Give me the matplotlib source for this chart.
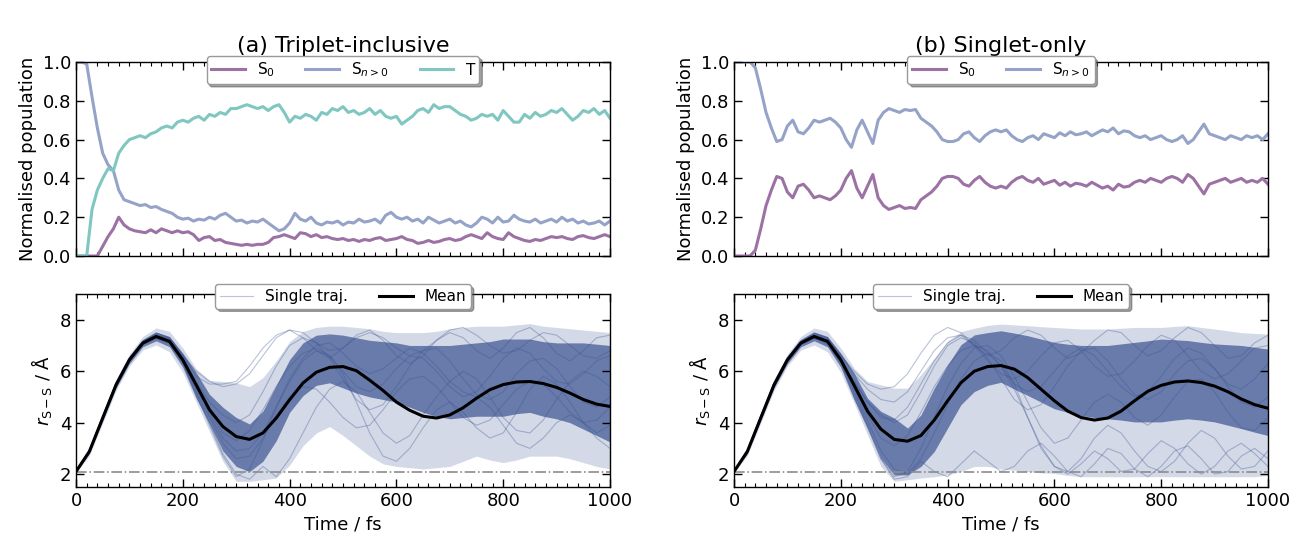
import numpy as np
import matplotlib.pyplot as plt
from matplotlib.ticker import MultipleLocator

# ---------------- data ----------------
t_pop = np.arange(0, 1001, 10)

# (a) triplet-inclusive populations
a_s0 = [0, 0, 0, 0, 0, 0.05, 0.10, 0.14, 0.20, 0.16, 0.14, 0.13, 0.125, 0.12, 0.135, 0.12, 0.14, 0.13, 0.12, 0.13,
        0.12, 0.125, 0.11, 0.08, 0.095, 0.10, 0.08, 0.085, 0.07, 0.065, 0.06, 0.055, 0.06, 0.055, 0.06, 0.06, 0.07, 0.095, 0.10, 0.11,
        0.10, 0.09, 0.12, 0.115, 0.10, 0.11, 0.095, 0.10, 0.09, 0.085, 0.09, 0.08, 0.085, 0.075, 0.085, 0.08, 0.09, 0.095, 0.08, 0.085,
        0.09, 0.10, 0.085, 0.08, 0.065, 0.07, 0.08, 0.07, 0.075, 0.085, 0.09, 0.08, 0.085, 0.10, 0.11, 0.10, 0.09, 0.12, 0.10, 0.09,
        0.085, 0.12, 0.10, 0.09, 0.08, 0.075, 0.085, 0.08, 0.09, 0.10, 0.095, 0.10, 0.09, 0.085, 0.10, 0.105, 0.095, 0.09, 0.10, 0.11,
        0.10]
a_sn = [1.0, 1.0, 0.99, 0.82, 0.66, 0.53, 0.47, 0.44, 0.34, 0.29, 0.28, 0.27, 0.26, 0.265, 0.25, 0.255, 0.24, 0.23, 0.22, 0.20,
        0.19, 0.195, 0.18, 0.19, 0.185, 0.20, 0.19, 0.21, 0.22, 0.20, 0.18, 0.185, 0.17, 0.18, 0.175, 0.19, 0.17, 0.15, 0.13, 0.14,
        0.17, 0.22, 0.19, 0.18, 0.20, 0.17, 0.16, 0.175, 0.17, 0.18, 0.16, 0.175, 0.17, 0.19, 0.175, 0.18, 0.19, 0.17, 0.21, 0.225,
        0.20, 0.19, 0.20, 0.18, 0.19, 0.17, 0.20, 0.185, 0.17, 0.18, 0.19, 0.17, 0.18, 0.16, 0.15, 0.17, 0.20, 0.19, 0.17, 0.20,
        0.175, 0.18, 0.21, 0.19, 0.18, 0.175, 0.19, 0.17, 0.18, 0.19, 0.175, 0.20, 0.18, 0.19, 0.17, 0.18, 0.165, 0.17, 0.18, 0.16,
        0.18]
a_t = [0, 0, 0, 0.24, 0.34, 0.40, 0.45, 0.44, 0.53, 0.57, 0.60, 0.61, 0.62, 0.61, 0.63, 0.64, 0.66, 0.67, 0.66, 0.69,
       0.70, 0.69, 0.71, 0.72, 0.70, 0.73, 0.72, 0.74, 0.73, 0.76, 0.76, 0.77, 0.78, 0.77, 0.76, 0.77, 0.75, 0.77, 0.78, 0.74,
       0.69, 0.72, 0.71, 0.73, 0.72, 0.70, 0.74, 0.73, 0.76, 0.75, 0.77, 0.74, 0.75, 0.73, 0.74, 0.76, 0.73, 0.75, 0.72, 0.71,
       0.72, 0.68, 0.70, 0.72, 0.75, 0.76, 0.74, 0.78, 0.76, 0.77, 0.77, 0.75, 0.73, 0.72, 0.70, 0.71, 0.73, 0.72, 0.73, 0.70,
       0.75, 0.72, 0.69, 0.69, 0.73, 0.71, 0.74, 0.72, 0.73, 0.75, 0.74, 0.76, 0.73, 0.70, 0.72, 0.75, 0.74, 0.76, 0.73, 0.75,
       0.71]

# (b) singlet-only populations
b_sn = [1.0, 1.0, 1.0, 1.0, 0.97, 0.86, 0.74, 0.66, 0.59, 0.60, 0.67, 0.70, 0.64, 0.63, 0.66, 0.70, 0.69, 0.70, 0.71, 0.69,
        0.66, 0.60, 0.56, 0.65, 0.70, 0.64, 0.58, 0.70, 0.74, 0.76, 0.75, 0.74, 0.755, 0.75, 0.755, 0.71, 0.69, 0.67, 0.64, 0.60,
        0.59, 0.59, 0.60, 0.63, 0.64, 0.61, 0.59, 0.62, 0.64, 0.65, 0.64, 0.65, 0.62, 0.60, 0.59, 0.61, 0.62, 0.60, 0.63, 0.62,
        0.61, 0.635, 0.62, 0.64, 0.625, 0.63, 0.64, 0.62, 0.635, 0.65, 0.64, 0.66, 0.63, 0.645, 0.64, 0.62, 0.61, 0.62, 0.60, 0.61,
        0.62, 0.60, 0.59, 0.60, 0.62, 0.58, 0.60, 0.64, 0.68, 0.63, 0.62, 0.61, 0.60, 0.62, 0.61, 0.60, 0.62, 0.61, 0.62, 0.60,
        0.63]
b_s0 = [0, 0, 0, 0, 0.03, 0.14, 0.26, 0.34, 0.41, 0.40, 0.33, 0.30, 0.36, 0.37, 0.34, 0.30, 0.31, 0.30, 0.29, 0.31,
        0.34, 0.40, 0.44, 0.35, 0.30, 0.36, 0.42, 0.30, 0.26, 0.24, 0.25, 0.26, 0.245, 0.25, 0.245, 0.29, 0.31, 0.33, 0.36, 0.40,
        0.41, 0.41, 0.40, 0.37, 0.36, 0.39, 0.41, 0.38, 0.36, 0.35, 0.36, 0.35, 0.38, 0.40, 0.41, 0.39, 0.38, 0.40, 0.37, 0.38,
        0.39, 0.365, 0.38, 0.36, 0.375, 0.37, 0.36, 0.38, 0.365, 0.35, 0.36, 0.34, 0.37, 0.355, 0.36, 0.38, 0.39, 0.38, 0.40, 0.39,
        0.38, 0.40, 0.41, 0.40, 0.38, 0.42, 0.40, 0.36, 0.32, 0.37, 0.38, 0.39, 0.40, 0.38, 0.39, 0.40, 0.38, 0.39, 0.38, 0.40,
        0.37]

# S-S distance, sampled every 25 fs
t_r = np.arange(0, 1001, 25)
a_mean = [2.10, 2.88, 4.18, 5.47, 6.44, 7.09, 7.35, 7.16, 6.44, 5.47, 4.50, 3.85, 3.46, 3.35, 3.60, 4.18, 4.89, 5.54, 5.96, 6.15,
          6.18, 6.02, 5.65, 5.25, 4.80, 4.48, 4.25, 4.18, 4.30, 4.58, 4.95, 5.28, 5.48, 5.58, 5.60, 5.52, 5.37, 5.15, 4.90, 4.72,
          4.63]
b_mean = [2.10, 2.88, 4.18, 5.47, 6.44, 7.09, 7.35, 7.16, 6.44, 5.45, 4.45, 3.75, 3.35, 3.28, 3.50, 4.10, 4.85, 5.55, 6.00, 6.18,
          6.22, 6.08, 5.75, 5.30, 4.85, 4.45, 4.20, 4.10, 4.18, 4.45, 4.85, 5.22, 5.45, 5.58, 5.62, 5.56, 5.42, 5.20, 4.92, 4.70,
          4.56]

# spread of the trajectory bundle (outer envelope and dense core)
a_hi_outer = [2.15, 3.02, 4.38, 5.68, 6.66, 7.35, 7.68, 7.55, 6.90, 6.10, 5.65, 5.60, 5.55, 5.40, 5.75, 6.40, 7.15, 7.55, 7.70, 7.75,
              7.75, 7.70, 7.65, 7.55, 7.50, 7.50, 7.50, 7.55, 7.65, 7.70, 7.75, 7.75, 7.75, 7.80, 7.85, 7.75, 7.70, 7.65, 7.60, 7.55,
              7.50]
a_hi_core = [2.12, 2.95, 4.28, 5.58, 6.55, 7.22, 7.52, 7.35, 6.70, 5.95, 5.10, 4.60, 4.20, 3.95, 4.45, 5.45, 6.45, 7.10, 7.40, 7.45,
             7.40, 7.30, 7.20, 7.15, 7.10, 7.00, 7.00, 7.00, 7.00, 7.05, 7.10, 7.15, 7.25, 7.25, 7.25, 7.15, 7.10, 7.10, 7.10, 7.05,
             7.00]
a_lo_core = [2.08, 2.80, 4.08, 5.35, 6.30, 6.95, 7.18, 6.95, 6.15, 4.95, 3.95, 2.90, 2.30, 2.10, 2.50, 3.30, 4.40, 5.05, 5.45, 5.55,
             5.35, 5.15, 5.00, 4.90, 4.80, 4.60, 4.40, 4.25, 4.15, 4.20, 4.25, 4.25, 4.25, 4.35, 4.40, 4.25, 4.15, 4.00, 3.75, 3.50,
             3.25]
a_lo_outer = [2.05, 2.72, 3.98, 5.25, 6.20, 6.82, 7.02, 6.75, 5.95, 4.80, 3.65, 2.50, 1.72, 1.72, 1.78, 1.85, 2.35, 3.10, 3.60, 3.85,
              3.50, 3.10, 2.70, 2.40, 2.30, 2.25, 2.20, 2.25, 2.30, 2.50, 2.70, 2.55, 2.45, 2.55, 2.70, 2.70, 2.70, 2.60, 2.45, 2.30,
              2.20]
b_hi_outer = [2.15, 3.02, 4.38, 5.68, 6.66, 7.35, 7.68, 7.55, 6.90, 6.12, 5.60, 5.47, 5.34, 5.34, 5.86, 6.50, 7.16, 7.54, 7.67, 7.78,
              7.83, 7.80, 7.77, 7.73, 7.70, 7.67, 7.64, 7.64, 7.64, 7.67, 7.70, 7.70, 7.70, 7.74, 7.77, 7.70, 7.64, 7.57, 7.50, 7.47,
              7.44]
b_hi_core = [2.12, 2.95, 4.28, 5.58, 6.55, 7.22, 7.52, 7.35, 6.70, 5.92, 4.95, 4.44, 4.18, 3.79, 4.30, 5.34, 6.25, 7.03, 7.41, 7.50,
             7.57, 7.48, 7.38, 7.25, 7.12, 7.05, 7.00, 7.00, 7.00, 7.06, 7.12, 7.18, 7.25, 7.22, 7.19, 7.12, 7.06, 7.03, 7.00, 6.93,
             6.86]
b_lo_core = [2.08, 2.80, 4.08, 5.35, 6.30, 6.95, 7.18, 6.95, 6.15, 4.89, 3.79, 2.62, 1.97, 1.97, 2.30, 2.88, 3.79, 4.70, 5.21, 5.45,
             5.57, 5.30, 5.06, 4.80, 4.54, 4.40, 4.28, 4.20, 4.15, 4.10, 4.03, 4.03, 4.03, 4.10, 4.15, 4.10, 4.03, 3.90, 3.77, 3.63,
             3.50]
b_lo_outer = [2.05, 2.72, 3.98, 5.25, 6.20, 6.82, 7.02, 6.75, 5.95, 4.75, 3.53, 2.30, 1.72, 1.78, 1.85, 1.90, 1.97, 2.10, 2.30, 2.30,
              2.20, 2.15, 2.10, 2.05, 2.03, 1.95, 1.90, 1.90, 1.90, 1.90, 1.90, 1.90, 1.90, 1.90, 1.90, 1.90, 1.90, 1.90, 1.90, 1.90,
              1.95]

# a few single trajectories that stand out (first 200 fs, then the rest)
start_a = [2.10, 2.90, 4.22, 5.52, 6.50, 7.15, 7.42, 7.25, 6.55]
start_b = [2.08, 2.85, 4.12, 5.42, 6.38, 7.03, 7.28, 7.08, 6.32]
start_c = [2.12, 2.93, 4.25, 5.55, 6.52, 7.18, 7.48, 7.30, 6.62]
start_d = [2.09, 2.87, 4.15, 5.45, 6.42, 7.07, 7.32, 7.12, 6.40]

a_traj = [
    start_b + [5.20, 4.00, 2.80, 2.00, 1.80, 2.30, 1.90, 2.60, 3.60, 4.60, 5.30, 5.60, 5.20, 4.40, 3.60, 3.20,
               3.50, 4.30, 5.00, 5.60, 6.00, 5.70, 5.00, 4.20, 3.70, 3.60, 4.10, 4.90, 5.60, 6.00, 5.80, 5.40],
    start_c + [5.80, 5.50, 5.50, 5.60, 6.20, 6.90, 7.40, 7.60, 7.30, 6.80, 6.50, 6.90, 7.40, 7.60, 7.20, 6.60,
               6.30, 6.60, 7.20, 7.50, 7.30, 6.80, 6.50, 6.90, 7.50, 7.70, 7.30, 6.70, 6.40, 6.80, 7.30, 7.40],
    start_a + [5.50, 4.30, 3.40, 2.90, 3.00, 3.60, 4.60, 5.60, 6.40, 6.80, 6.60, 5.90, 4.80, 3.60, 2.70, 2.50,
               3.00, 3.80, 4.50, 4.80, 4.40, 3.80, 3.40, 3.60, 4.40, 5.30, 5.80, 5.50, 4.80, 4.00, 3.60, 3.90],
    start_d + [5.40, 4.40, 3.60, 3.30, 3.70, 4.50, 5.40, 6.20, 6.70, 6.90, 6.60, 6.00, 5.40, 5.20, 5.50, 6.10,
               6.60, 6.50, 6.00, 5.40, 5.00, 5.20, 5.80, 6.50, 6.90, 6.70, 6.10, 5.60, 5.50, 5.90, 6.40, 6.60],
    start_b + [5.10, 3.90, 2.70, 1.90, 2.20, 3.30, 4.60, 5.70, 6.50, 7.00, 7.10, 6.70, 6.20, 5.90, 6.10, 6.50,
               6.90, 6.70, 6.20, 5.60, 5.20, 5.00, 4.60, 3.90, 3.20, 3.00, 3.40, 4.00, 4.30, 4.00, 3.40, 3.00],
    start_a + [5.60, 4.80, 4.30, 4.00, 4.30, 5.20, 6.20, 7.00, 7.30, 7.10, 6.50, 5.70, 4.90, 4.50, 4.70, 5.40,
               6.20, 6.80, 6.90, 6.40, 5.70, 5.10, 4.90, 5.20, 5.90, 6.40, 6.50, 6.10, 5.40, 4.80, 4.60, 5.00],
    start_c + [6.00, 5.60, 5.40, 5.50, 5.90, 6.60, 7.30, 7.60, 7.50, 7.10, 6.80, 6.90, 7.30, 7.50, 7.30, 6.90,
               6.60, 6.80, 7.20, 7.60, 7.70, 7.40, 7.00, 6.70, 6.80, 7.20, 7.50, 7.40, 7.00, 6.60, 6.50, 6.80],
    start_d + [5.30, 4.20, 3.20, 2.60, 2.70, 3.40, 4.30, 5.00, 5.40, 5.30, 4.80, 4.20, 3.80, 3.90, 4.50, 5.20,
               5.70, 5.80, 5.40, 4.80, 4.20, 3.90, 4.10, 4.70, 5.30, 5.60, 5.50, 5.00, 4.40, 4.00, 4.10, 4.60],
]
b_traj = [
    start_b + [5.20, 3.90, 2.60, 1.80, 1.90, 2.50, 2.10, 1.90, 2.40, 2.90, 2.50, 2.10, 2.30, 2.90, 3.20, 2.70,
               2.10, 1.90, 2.40, 3.00, 2.80, 2.20, 1.90, 2.30, 2.90, 3.10, 2.60, 2.00, 2.10, 2.70, 3.00, 2.60],
    start_d + [5.60, 4.80, 4.20, 4.10, 4.60, 5.50, 6.40, 7.10, 7.40, 7.20, 6.70, 6.20, 5.30, 4.20, 3.10, 2.30,
               2.00, 2.40, 2.90, 2.60, 2.10, 2.20, 2.80, 3.30, 3.00, 2.40, 2.00, 2.30, 2.90, 3.20, 2.80, 2.30],
    start_c + [6.00, 5.50, 5.30, 5.40, 5.90, 6.70, 7.40, 7.70, 7.50, 7.00, 6.60, 6.80, 7.30, 7.60, 7.40, 6.90,
               6.50, 6.70, 7.20, 7.60, 7.50, 7.00, 6.60, 6.80, 7.30, 7.70, 7.50, 7.00, 6.50, 6.60, 7.10, 7.40],
    start_a + [5.40, 4.30, 3.40, 3.10, 3.50, 4.40, 5.40, 6.20, 6.80, 7.00, 6.80, 6.20, 5.50, 5.20, 5.40, 6.00,
               6.60, 6.90, 6.60, 6.00, 5.40, 5.00, 5.20, 5.80, 6.50, 6.90, 6.70, 6.10, 5.50, 5.30, 5.70, 6.30],
    start_b + [5.00, 3.80, 2.60, 1.90, 2.10, 3.00, 4.20, 5.40, 6.30, 6.90, 7.00, 6.60, 5.80, 4.80, 3.80, 3.20,
               3.40, 4.10, 4.80, 5.10, 4.80, 4.20, 3.90, 4.30, 5.00, 5.60, 5.70, 5.20, 4.40, 3.80, 3.70, 4.20],
    start_d + [5.60, 4.80, 4.30, 4.00, 4.30, 5.20, 6.20, 7.00, 7.30, 7.10, 6.50, 5.70, 4.90, 4.50, 4.70, 5.40,
               6.20, 6.80, 6.90, 6.40, 5.70, 5.10, 4.90, 5.20, 5.90, 6.40, 6.50, 6.10, 5.40, 4.80, 4.60, 5.00],
    start_a + [5.30, 4.10, 2.90, 2.20, 2.00, 2.60, 3.60, 4.70, 5.70, 6.40, 6.70, 6.40, 5.50, 4.20, 3.00, 2.30,
               2.10, 2.60, 3.40, 3.90, 3.60, 2.90, 2.30, 2.10, 2.50, 3.20, 3.70, 3.40, 2.70, 2.20, 2.30, 2.90],
    start_c + [5.90, 5.30, 4.90, 4.80, 5.20, 6.00, 6.80, 7.30, 7.40, 7.00, 6.40, 5.90, 5.70, 6.00, 6.60, 7.10,
               7.20, 6.80, 6.20, 5.80, 5.90, 6.40, 7.00, 7.40, 7.20, 6.60, 6.00, 5.70, 5.90, 6.40, 6.90, 7.00],
]

bond_ref = 2.1   # dash-dot reference line

# ---------------- plotting ----------------
c_s0 = '#9c72a4'
c_sn = '#94a3c7'
c_t = '#7fc7c0'
c_traj = '#3b5391'

plt.rcParams['font.family'] = ['DejaVu Sans']
plt.rcParams['font.size'] = 13

fig = plt.figure(figsize=(12.93, 5.39), dpi=100)
W, H = 1293, 539
ax_a1 = fig.add_axes([76 / W, 1 - 256 / H, 534 / W, 194 / H])
ax_a2 = fig.add_axes([76 / W, 1 - 487 / H, 534 / W, 193 / H])
ax_b1 = fig.add_axes([734 / W, 1 - 256 / H, 534 / W, 194 / H])
ax_b2 = fig.add_axes([734 / W, 1 - 487 / H, 534 / W, 193 / H])


def style(ax):
    ax.set_xlim(0, 1000)
    ax.xaxis.set_major_locator(MultipleLocator(200))
    ax.xaxis.set_minor_locator(MultipleLocator(20))
    ax.tick_params(which='both', direction='in', top=True, right=True, labelsize=13)
    ax.tick_params(which='major', length=6, width=1)
    ax.tick_params(which='minor', length=3, width=0.8)
    for s in ax.spines.values():
        s.set_linewidth(1.0)


def legend(ax, ncol, y=1.05):
    leg = ax.legend(loc='upper center', bbox_to_anchor=(0.5, y), ncol=ncol, fontsize=11,
                    frameon=True, shadow=True, fancybox=True, framealpha=1, edgecolor='0.6',
                    borderaxespad=0, handlelength=2.2, columnspacing=2.0, borderpad=0.3)
    leg.set_zorder(10)


# top panels
ax_a1.plot(t_pop, a_s0, color=c_s0, lw=2.2, label='S$_0$')
ax_a1.plot(t_pop, a_sn, color=c_sn, lw=2.2, label='S$_{n>0}$')
ax_a1.plot(t_pop, a_t, color=c_t, lw=2.2, label='T')
ax_b1.plot(t_pop, b_s0, color=c_s0, lw=2.2, label='S$_0$')
ax_b1.plot(t_pop, b_sn, color=c_sn, lw=2.2, label='S$_{n>0}$')

for ax, n in [(ax_a1, 3), (ax_b1, 2)]:
    style(ax)
    ax.set_ylim(0, 1)
    ax.yaxis.set_major_locator(MultipleLocator(0.2))
    ax.set_ylabel('Normalised population', fontsize=13)
    ax.tick_params(labelbottom=False)
    legend(ax, n, y=1.03)

ax_a1.set_title('(a) Triplet-inclusive', fontsize=16, pad=7)
ax_b1.set_title('(b) Singlet-only', fontsize=16, pad=7)

# bottom panels
for ax, mean, hi_o, hi_c, lo_c, lo_o, trajs in [
        (ax_a2, a_mean, a_hi_outer, a_hi_core, a_lo_core, a_lo_outer, a_traj),
        (ax_b2, b_mean, b_hi_outer, b_hi_core, b_lo_core, b_lo_outer, b_traj)]:
    ax.fill_between(t_r, lo_o, hi_o, color=c_traj, alpha=0.22, lw=0)
    ax.fill_between(t_r, lo_c, hi_c, color=c_traj, alpha=0.7, lw=0)
    for i, tr in enumerate(trajs):
        ax.plot(t_r, tr, color=c_traj, lw=0.8, alpha=0.35,
                label='Single traj.' if i == 0 else None)
    ax.axhline(bond_ref, color='0.55', ls='-.', lw=1.2)
    ax.plot(t_r, mean, color='black', lw=2.2, label='Mean')
    style(ax)
    ax.set_ylim(1.5, 9)
    ax.yaxis.set_major_locator(MultipleLocator(2))
    ax.set_xlabel('Time / fs', fontsize=13)
    ax.set_ylabel(r'$r_{\rm S-S}$ / Å', fontsize=13)
    legend(ax, 2)

fig.savefig('out.png', dpi=100)
